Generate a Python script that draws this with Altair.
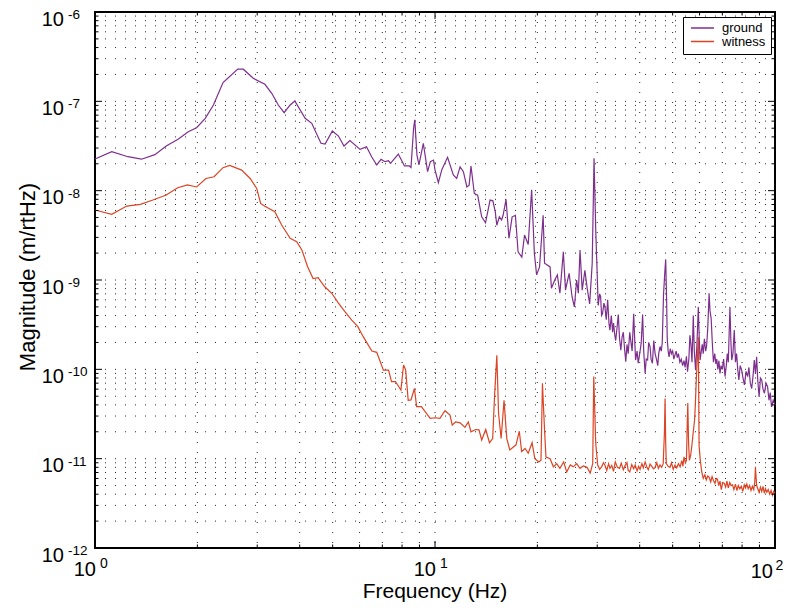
import altair as alt
import pandas as pd

FONT = "Liberation Sans"

series_names = ["ground", "witness"]
series_colors = ["#7E2F8E", "#DC4424"]

ground_f = [1.00, 1.12, 1.25, 1.37, 1.50, 1.62, 1.76, 1.88, 1.99, 2.11, 2.23, 2.38, 2.63, 2.73, 2.92,
            3.16, 3.31, 3.46, 3.60, 3.75, 3.87, 4.15, 4.34, 4.62, 4.75, 4.99, 5.20, 5.40, 5.62, 6.02,
            6.29, 6.51, 6.74, 6.94, 7.13, 7.30, 7.40, 7.80, 8.13, 8.40, 8.50, 8.65, 8.72, 8.85, 8.97,
            9.24, 9.51, 9.69, 9.90, 10.0, 10.23, 10.48, 10.89, 11.32, 11.58, 11.85, 12.12, 12.41, 12.60,
            12.76, 13.05, 13.35, 13.72, 14.08, 14.52, 14.80, 15.04, 15.20, 15.46, 15.70, 15.86, 16.18,
            16.50, 16.86, 17.24, 17.55, 18.00, 18.34, 18.80, 19.24, 19.60, 19.90, 20.30, 20.80, 21.00,
            21.80, 22.00, 22.50, 22.90, 23.30, 23.85, 24.20, 24.80, 25.30, 25.70, 26.10, 26.40, 26.70,
            27.10, 27.60, 28.00, 28.50, 29.00, 29.36, 29.70,
            30.2, 30.5, 30.7, 30.9, 31.1, 31.4, 31.6, 31.9, 32.2, 32.5, 32.7, 33.0, 33.3, 33.5, 33.8,
            34.0, 34.3, 34.6, 34.9, 35.2, 35.5, 35.8, 36.1, 36.4, 36.7, 37.0, 37.4, 37.7, 38.0, 38.4,
            38.7, 38.9, 39.3, 39.6, 40.0, 40.4, 40.8, 41.1, 41.5, 41.8, 42.2, 42.5, 42.9, 43.2, 43.6,
            44.0, 44.4, 44.8, 45.2, 45.5, 45.9, 46.3, 46.6, 47.0, 47.4, 47.7, 48.0, 48.2, 48.5, 48.8,
            49.2, 49.6, 50.0, 50.4, 50.8, 51.2, 51.6, 52.0, 52.5, 53.0, 53.5, 54.0, 54.4, 54.9, 55.3,
            55.8, 56.2, 56.6, 57.0, 57.5, 57.9, 58.4, 58.9, 59.5, 59.8, 60.2, 60.7, 61.1, 61.5, 62.0,
            62.5, 62.9, 63.4, 64.0, 64.4, 64.9, 65.4, 65.9, 66.5, 67.0, 67.4, 67.9, 68.4, 68.9, 69.4,
            70.0, 70.6, 71.3, 71.9, 72.4, 72.9, 73.3, 73.7, 74.2, 74.6, 75.2, 75.9, 76.5, 77.1, 77.7,
            78.3, 79.0, 79.8, 80.5, 81.3, 82.2, 83.1, 83.8, 84.6, 85.4, 86.2, 86.9, 87.6, 88.3, 89.0,
            89.8, 90.6, 91.4, 92.2, 93.1, 94.1, 95.1, 96.0, 96.8, 97.7, 98.8, 100.0]
ground_v = [2.26e-8, 2.73e-8, 2.40e-8, 2.25e-8, 2.53e-8, 3.16e-8, 3.78e-8, 4.57e-8, 5.07e-8, 6.45e-8,
            9.1e-8, 1.62e-7, 2.30e-7, 2.29e-7, 1.81e-7, 1.55e-7, 1.23e-7, 9.1e-8, 7.46e-8, 9.1e-8,
            1.01e-7, 6.46e-8, 5.68e-8, 3.39e-8, 3.33e-8, 4.66e-8, 4.09e-8, 3.16e-8, 3.63e-8, 2.90e-8,
            3.10e-8, 2.40e-8, 1.94e-8, 2.24e-8, 2.11e-8, 2.16e-8, 2.02e-8, 2.57e-8, 1.89e-8, 1.89e-8,
            1.82e-8, 5.0e-8, 6.2e-8, 2.5e-8, 1.94e-8, 3.39e-8, 1.63e-8, 2.11e-8, 2.20e-8, 1.71e-8,
            1.23e-8, 1.73e-8, 2.36e-8, 1.50e-8, 1.37e-8, 1.85e-8, 1.63e-8, 1.10e-8, 1.15e-8, 1.89e-8,
            9.3e-9, 8.9e-9, 5.1e-9, 4.37e-9, 7.85e-9, 7.7e-9, 5.8e-9, 4.1e-9, 5.1e-9, 4.7e-9, 5.3e-9,
            8.0e-9, 2.93e-9, 5.1e-9, 5.3e-9, 2.07e-9, 1.80e-9, 3.19e-9, 2.5e-9, 1.02e-8, 1.99e-9,
            1.14e-9, 1.40e-9, 5.3e-9, 1.54e-9, 1.40e-9, 8.1e-10, 1.0e-9, 1.14e-9, 7.1e-10, 2.07e-9,
            7.7e-10, 1.19e-9, 6.5e-10, 5.0e-10, 1.0e-9, 7.1e-10, 2.17e-9, 7.7e-10, 1.28e-9, 8.3e-10,
            5.4e-10, 1.54e-9, 2.3e-8, 3.63e-9,
            5.2e-10, 7.0e-10, 6.5e-10, 4.0e-10, 4.2e-10, 5.5e-10, 5.0e-10, 3.6e-10, 6.0e-10, 3.2e-10,
            2.75e-10, 4.0e-10, 2.6e-10, 3.3e-10, 2.4e-10, 2.1e-10, 2.9e-10, 4.1e-10, 2.2e-10, 1.64e-10,
            2.3e-10, 2.6e-10, 1.7e-10, 1.22e-10, 1.9e-10, 1.5e-10, 2.6e-10, 2.0e-10, 1.6e-10, 4.2e-10,
            2.0e-10, 1.27e-10, 1.6e-10, 1.17e-10, 1.5e-10, 1.95e-10, 4.1e-10, 1.6e-10, 9.0e-11, 1.3e-10,
            1.27e-10, 2.0e-10, 1.8e-10, 1.3e-10, 1.17e-10, 2.1e-10, 1.5e-10, 1.3e-10, 1.1e-10, 1.5e-10,
            1.8e-10, 1.6e-10, 2.0e-10, 6.8e-10, 1.2e-9, 1.7e-9, 6.0e-10, 2.2e-10, 1.6e-10, 1.38e-10,
            1.7e-10, 1.5e-10, 1.6e-10, 1.3e-10, 1.45e-10, 1.6e-10, 1.35e-10, 1.5e-10, 1.2e-10, 1.3e-10,
            1.1e-10, 1.25e-10, 1.05e-10, 1.4e-10, 9.4e-11, 1.3e-10, 2.4e-10, 1.9e-10, 1.2e-10, 4.0e-10,
            1.6e-10, 9.8e-11, 1.8e-10, 5.0e-10, 2.5e-10, 1.27e-10, 1.6e-10, 1.9e-10, 1.5e-10, 2.2e-10,
            1.6e-10, 1.8e-10, 2.8e-10, 7.1e-10, 4.5e-10, 3.7e-10, 2.0e-10, 1.2e-10, 1.5e-10, 1.15e-10,
            1.3e-10, 1.0e-10, 1.25e-10, 9.0e-11, 1.1e-10, 1.0e-10, 1.3e-10, 8.3e-11, 1.1e-10, 1.5e-10,
            1.2e-10, 2.5e-10, 5.0e-10, 2.0e-10, 1.27e-10, 1.5e-10, 2.75e-10, 1.2e-10, 1.5e-10, 1.0e-10,
            7.6e-11, 1.1e-10, 9.8e-11, 8.0e-11, 6.7e-11, 9.5e-11, 8.3e-11, 1.05e-10, 7.0e-11, 6.1e-11,
            8.5e-11, 1.27e-10, 9.0e-11, 1.38e-10, 7.5e-11, 4.9e-11, 8.0e-11, 7.6e-11, 6.0e-11, 5.4e-11,
            7.0e-11, 6.4e-11, 4.5e-11, 5.5e-11, 3.8e-11, 4.5e-11, 4.0e-11]

witness_f = [1.00, 1.12, 1.24, 1.36, 1.48, 1.62, 1.75, 1.87, 1.99, 2.12, 2.24, 2.38, 2.49, 2.70, 2.86,
             2.99, 3.07, 3.16, 3.38, 3.54, 3.75, 3.92, 4.06, 4.22, 4.38, 4.53, 4.74, 4.97, 5.20, 5.44,
             5.69, 5.93, 6.15, 6.52, 6.74, 7.05, 7.30, 7.45, 7.65, 7.94, 8.08, 8.20, 8.34, 8.50, 8.70,
             8.83, 9.12, 9.68, 10.0, 10.34, 10.7, 11.07, 11.24, 11.5, 11.85, 12.25, 12.53, 12.76, 13.17,
             13.47, 13.72, 14.1, 14.46, 14.78, 14.98, 15.2, 15.38, 15.65, 15.96, 16.26, 16.6, 17.0, 17.3,
             17.7, 17.98, 18.4, 18.8, 19.3, 19.66, 20.2, 20.5, 20.7, 21.0, 21.2, 21.8, 22.3, 22.8, 23.3,
             23.9, 24.4, 25.0, 25.5, 26.1, 26.7, 27.3, 28.0, 28.6, 29.1, 29.3, 29.7, 30.1,
             30.5, 30.9, 31.3, 31.6, 32.0, 32.4, 32.7, 33.1, 33.5, 33.9, 34.4, 34.9, 35.3, 35.8, 36.2,
             36.7, 37.0, 37.4, 37.9, 38.4, 38.8, 39.3, 39.7, 40.1, 40.6, 41.0, 41.5, 42.0, 42.4, 42.9,
             43.4, 43.9, 44.4, 44.9, 45.4, 45.9, 46.4, 46.9, 47.3, 47.5, 47.7, 47.9, 48.5, 49.1, 49.6,
             50.2, 50.8, 51.4, 52.0, 52.6, 53.2, 53.6, 54.0, 54.5, 54.9, 55.2, 55.4, 55.7, 56.0, 56.5,
             56.9, 57.5, 58.0, 58.3, 58.6, 59.0, 59.5, 59.8, 60.3, 60.9, 61.5, 62.2, 62.8, 63.4, 64.0,
             64.7, 65.3, 65.9, 66.6, 67.2, 67.7, 68.3, 68.9, 69.5, 70.2, 70.9, 71.6, 72.2, 72.9, 73.6,
             74.3, 75.0, 75.7, 76.5, 77.3, 78.0, 78.8, 79.6, 80.4, 81.2, 81.9, 82.6, 83.4, 84.2, 85.0,
             85.8, 86.6, 87.2, 87.6, 88.3, 89.0, 89.8, 90.6, 91.4, 92.2, 93.0, 93.8, 94.6, 95.5, 96.5,
             97.4, 98.3, 99.2, 100.0]
witness_v = [6.08e-9, 5.43e-9, 6.73e-9, 7.03e-9, 7.85e-9, 8.94e-9, 1.08e-8, 1.16e-8, 1.10e-8, 1.37e-8,
             1.43e-8, 1.81e-8, 1.92e-8, 1.70e-8, 1.37e-8, 1.06e-8, 7.2e-9, 6.7e-9, 5.82e-9, 4.13e-9,
             2.93e-9, 2.69e-9, 2.17e-9, 1.41e-9, 1.04e-9, 1.06e-9, 8.4e-10, 7.1e-10, 5.5e-10, 4.4e-10,
             3.56e-10, 3.0e-10, 2.32e-10, 1.60e-10, 1.55e-10, 9.8e-11, 9.8e-11, 7.3e-11, 7.3e-11, 5.87e-11,
             1.12e-10, 9.8e-11, 4.5e-11, 4.55e-11, 6.1e-11, 3.82e-11, 3.82e-11, 2.83e-11, 2.87e-11,
             2.83e-11, 3.44e-11, 3.08e-11, 2.38e-11, 2.58e-11, 2.52e-11, 2.24e-11, 2.58e-11, 2.0e-11,
             2.12e-11, 2.1e-11, 1.62e-11, 2.12e-11, 1.51e-11, 1.68e-11, 5.4e-11, 1.44e-10, 3.2e-11,
             1.68e-11, 4.5e-11, 1.68e-11, 1.25e-11, 1.35e-11, 1.42e-11, 2.03e-11, 1.2e-11, 1.3e-11,
             1.15e-11, 1.51e-11, 1.0e-11, 9.2e-12, 9.6e-12, 7.0e-11, 2.1e-11, 1.04e-11, 1.0e-11, 8.1e-12,
             8.8e-12, 7.8e-12, 9.2e-12, 7.1e-12, 8.5e-12, 8.1e-12, 8.8e-12, 7.8e-12, 8.3e-12, 8.0e-12,
             6.9e-12, 8.8e-12, 8.3e-11, 1.48e-11, 8.5e-12,
             7.6e-12, 8.1e-12, 9.0e-12, 8.5e-12, 7.4e-12, 8.8e-12, 7.8e-12, 8.4e-12, 7.2e-12, 9.2e-12,
             8.0e-12, 7.8e-12, 8.9e-12, 7.5e-12, 8.3e-12, 9.0e-12, 7.4e-12, 7.1e-12, 8.6e-12, 7.7e-12,
             8.5e-12, 7.3e-12, 8.2e-12, 7.6e-12, 8.8e-12, 7.9e-12, 9.2e-12, 8.0e-12, 7.5e-12, 8.7e-12,
             8.2e-12, 7.7e-12, 8.0e-12, 9.0e-12, 7.8e-12, 8.5e-12, 8.0e-12, 8.8e-12, 2.0e-11, 4.7e-11,
             1.5e-11, 8.8e-12, 8.2e-12, 8.0e-12, 9.0e-12, 7.6e-12, 8.5e-12, 7.9e-12, 8.8e-12, 8.1e-12,
             9.5e-12, 8.2e-12, 1.05e-11, 9.0e-12, 9.6e-12, 2.5e-11, 4.2e-11, 1.5e-11, 9.6e-12, 1.1e-11,
             1.36e-11, 2.0e-11, 2.7e-11, 4.0e-11, 6.7e-11, 1.2e-10, 2.3e-10, 1.4e-11, 9.5e-12, 7.1e-12,
             6.0e-12, 6.6e-12, 5.8e-12, 6.4e-12, 6.2e-12, 5.5e-12, 6.3e-12, 5.7e-12, 5.3e-12, 6.0e-12,
             5.9e-12, 5.0e-12, 5.6e-12, 4.5e-12, 5.4e-12, 5.3e-12, 4.8e-12, 5.6e-12, 4.7e-12, 5.4e-12,
             5.0e-12, 5.1e-12, 4.5e-12, 5.2e-12, 4.4e-12, 5.0e-12, 4.6e-12, 4.9e-12, 4.3e-12, 5.1e-12,
             4.7e-12, 5.2e-12, 4.6e-12, 5.0e-12, 4.4e-12, 4.9e-12, 4.5e-12, 5.5e-12, 8.0e-12, 5.0e-12,
             4.6e-12, 4.2e-12, 4.8e-12, 4.3e-12, 4.9e-12, 4.1e-12, 4.6e-12, 4.2e-12, 4.5e-12, 4.0e-12,
             4.4e-12, 3.9e-12, 4.3e-12, 4.1e-12]

# axis ticks / labels
x_title = "Frequency (Hz)"
y_title = "Magnitude (m/rtHz)"
x_major = [1, 10, 100]
x_major_exp = ["0", "1", "2"]
x_minor = [2, 3, 4, 5, 6, 7, 8, 9, 20, 30, 40, 50, 60, 70, 80, 90]
y_major = [1e-6, 1e-7, 1e-8, 1e-9, 1e-10, 1e-11, 1e-12]
y_major_exp = ["-6", "-7", "-8", "-9", "-10", "-11", "-12"]
y_minor = [m * 10.0 ** k for k in range(-12, -6) for m in range(2, 10)]

W, H = 680, 536

df = pd.concat([
    pd.DataFrame({"f": ground_f, "v": ground_v, "series": "ground"}),
    pd.DataFrame({"f": witness_f, "v": witness_v, "series": "witness"}),
], ignore_index=True)

xscale = alt.Scale(type="log", domain=[1, 100], nice=False)
yscale = alt.Scale(type="log", domain=[1e-12, 1e-6], nice=False)

Y = alt.Y("v:Q", scale=yscale, axis=None)
X = alt.X("f:Q", scale=xscale, axis=None)

ymaj = pd.DataFrame({"v": y_major, "e": y_major_exp, "b": ["10"] * len(y_major)})
ymin = pd.DataFrame({"v": y_minor})
yall = pd.DataFrame({"v": y_major + y_minor})
xmaj = pd.DataFrame({"f": x_major, "e": x_major_exp, "b": ["10"] * len(x_major)})
xmin = pd.DataFrame({"f": x_minor})
xall = pd.DataFrame({"f": x_major + x_minor})

DOT = dict(stroke="black", strokeWidth=1, strokeDash=[1, 9], opacity=0.85)

# dotted grid
ygrid = alt.Chart(yall).mark_rule(**DOT).encode(y=Y, x=alt.value(0), x2=alt.value(W))
xgrid = alt.Chart(xall).mark_rule(**DOT).encode(x=X, y=alt.value(0), y2=alt.value(H))

lines = alt.Chart(df).mark_line(strokeWidth=1.2).encode(
    x=alt.X("f:Q", scale=xscale, axis=None),
    y=alt.Y("v:Q", scale=yscale, axis=None),
    color=alt.Color("series:N",
                    scale=alt.Scale(domain=series_names, range=series_colors),
                    legend=alt.Legend(orient="none", legendX=588, legendY=5, title=None,
                                      fillColor="white", strokeColor="black", padding=5,
                                      symbolType="stroke", symbolSize=529, symbolStrokeWidth=1.5,
                                      symbolOffset=2, clipHeight=12, rowPadding=0.5,
                                      labelFont=FONT, labelFontSize=13, labelColor="black",
                                      labelOffset=7)),
)

def yticks(data, length):
    c = alt.Chart(data).mark_rule(stroke="black", strokeWidth=1)
    return [c.encode(y=Y, x=alt.value(0), x2=alt.value(length)),
            c.encode(y=Y, x=alt.value(W), x2=alt.value(W - length))]

def xticks(data, length):
    c = alt.Chart(data).mark_rule(stroke="black", strokeWidth=1)
    return [c.encode(x=X, y=alt.value(H), y2=alt.value(H - length)),
            c.encode(x=X, y=alt.value(0), y2=alt.value(length))]

tick_layers = yticks(ymaj, 7) + yticks(ymin, 3.5) + xticks(xmaj, 7) + xticks(xmin, 3.5)

ylab_base = alt.Chart(ymaj).mark_text(align="right", baseline="alphabetic", font=FONT,
                                      fontSize=20, dy=13.5, color="black").encode(
    y=Y, x=alt.value(-31), text="b:N")
ylab_exp = alt.Chart(ymaj).mark_text(align="left", baseline="alphabetic", font=FONT,
                                     fontSize=13.5, dy=7, color="black").encode(
    y=Y, x=alt.value(-27), text="e:N")

xmaj_a = xmaj.iloc[:2]
xmaj_b = xmaj.iloc[2:]
xlab_base_a = alt.Chart(xmaj_a).mark_text(align="right", baseline="alphabetic", font=FONT,
                                          fontSize=20, dx=1, color="black").encode(
    x=X, y=alt.value(564), text="b:N")
xlab_exp_a = alt.Chart(xmaj_a).mark_text(align="left", baseline="alphabetic", font=FONT,
                                         fontSize=14, dx=5, color="black").encode(
    x=X, y=alt.value(556), text="e:N")
xlab_base_b = alt.Chart(xmaj_b).mark_text(align="right", baseline="alphabetic", font=FONT,
                                          fontSize=20, dx=-2, color="black").encode(
    x=X, y=alt.value(566), text="b:N")
xlab_exp_b = alt.Chart(xmaj_b).mark_text(align="left", baseline="alphabetic", font=FONT,
                                         fontSize=14, dx=0.5, color="black").encode(
    x=X, y=alt.value(558), text="e:N")

titles = pd.DataFrame({"t": [x_title, y_title]})
xtitle = alt.Chart(titles.iloc[:1]).mark_text(align="center", baseline="alphabetic", font=FONT,
                                               fontSize=21, color="black").encode(
    x=alt.value(W / 2), y=alt.value(585.5), text="t:N")
ytitle = alt.Chart(titles.iloc[1:]).mark_text(align="center", baseline="alphabetic", font=FONT,
                                              fontSize=22, angle=270, color="black").encode(
    x=alt.value(-60), y=alt.value(H / 2 - 3), text="t:N")

chart = alt.layer(
    ygrid, xgrid, lines, *tick_layers, ylab_base, ylab_exp,
    xlab_base_a, xlab_exp_a, xlab_base_b, xlab_exp_b, xtitle, ytitle
).properties(
    width=W, height=H,
    padding={"left": 87, "top": 4, "right": 8, "bottom": 55},
    autosize=alt.AutoSizeParams(type="none"),
).configure_view(
    stroke="black", strokeWidth=2
)

chart.save("out.html", embed_options={"renderer": "svg", "actions": False})
